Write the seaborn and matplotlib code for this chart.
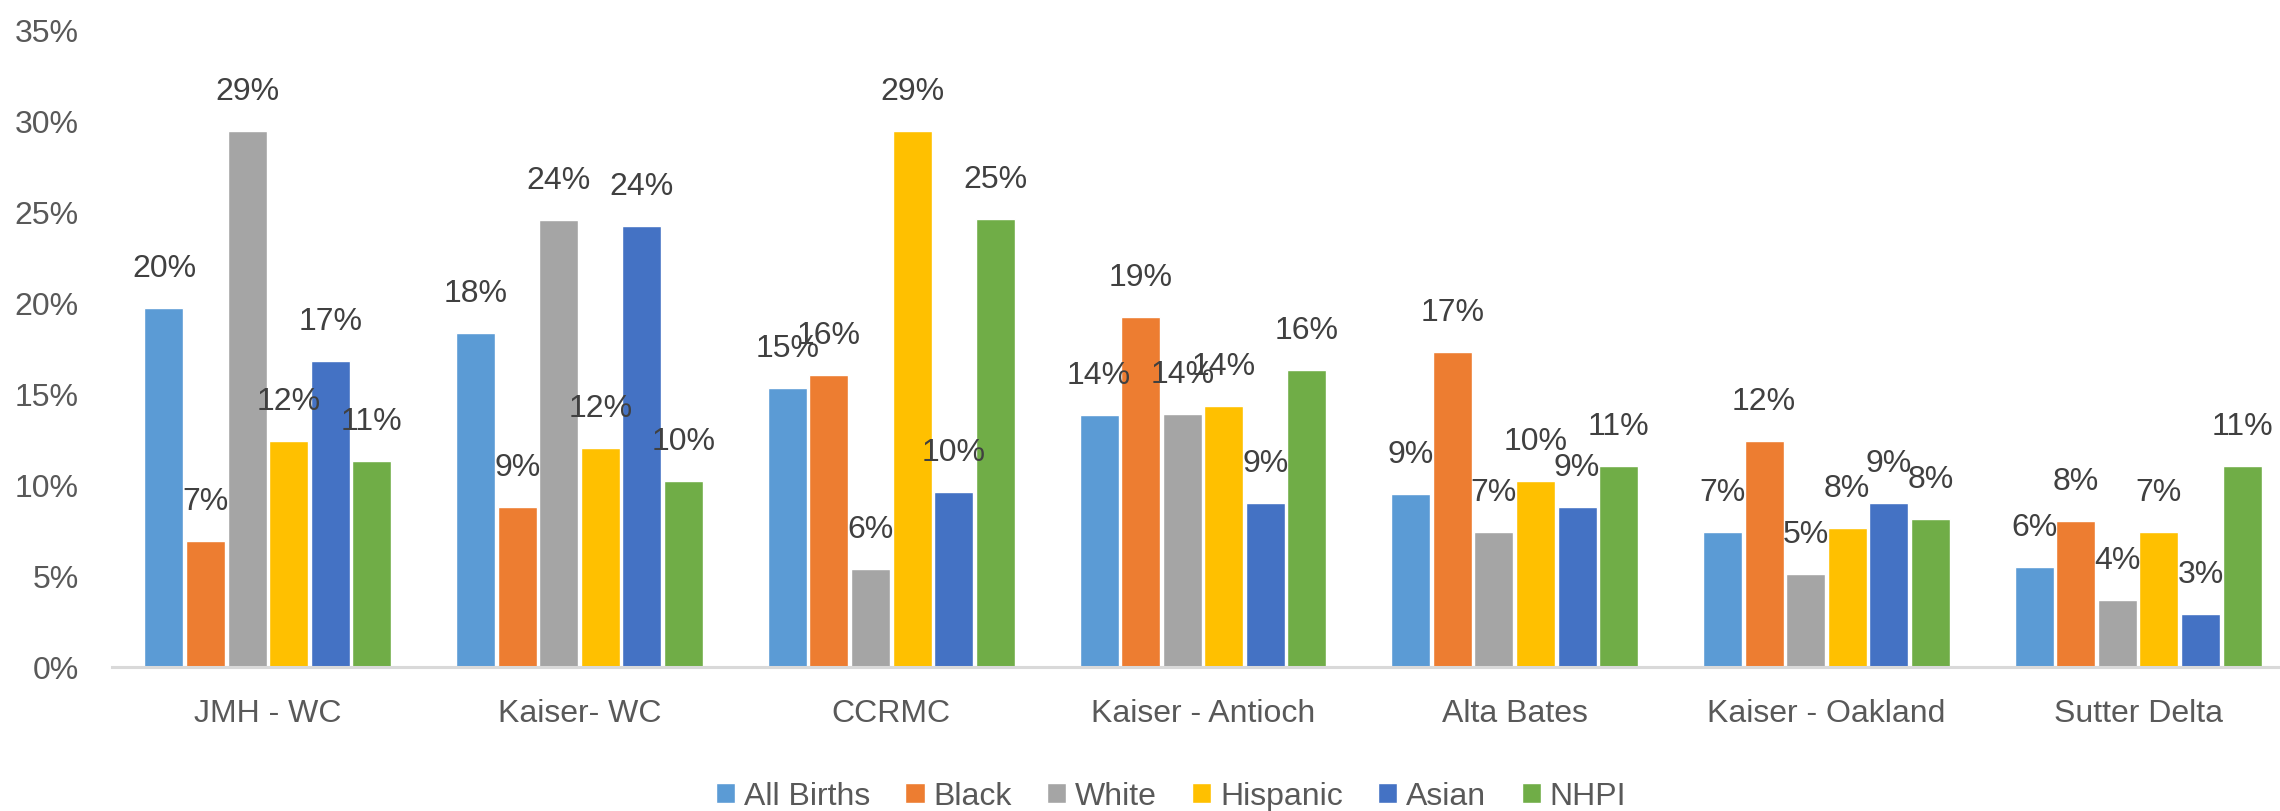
import matplotlib
matplotlib.use("Agg")
import matplotlib.pyplot as plt
import seaborn as sns
import pandas as pd

hospitals = ["JMH - WC", "Kaiser- WC", "CCRMC", "Kaiser - Antioch", "Alta Bates", "Kaiser - Oakland", "Sutter Delta"]
groups = ["All Births", "Black", "White", "Hispanic", "Asian", "NHPI"]

all_births = [19.7, 18.3, 15.3, 13.8, 9.5, 7.4, 5.5]
black      = [6.9, 8.8, 16.0, 19.2, 17.3, 12.4, 8.0]
white      = [29.4, 24.5, 5.4, 13.9, 7.4, 5.1, 3.7]
hispanic   = [12.4, 12.0, 29.4, 14.3, 10.2, 7.6, 7.4]
asian      = [16.8, 24.2, 9.6, 9.0, 8.8, 9.0, 2.9]
nhpi       = [11.3, 10.2, 24.6, 16.3, 11.0, 8.1, 11.0]

lab_all      = ["20%", "18%", "15%", "14%", "9%", "7%", "6%"]
lab_black    = ["7%", "9%", "16%", "19%", "17%", "12%", "8%"]
lab_white    = ["29%", "24%", "6%", "14%", "7%", "5%", "4%"]
lab_hispanic = ["12%", "12%", "29%", "14%", "10%", "8%", "7%"]
lab_asian    = ["17%", "24%", "10%", "9%", "9%", "9%", "3%"]
lab_nhpi     = ["11%", "10%", "25%", "16%", "11%", "8%", "11%"]

y_ticks = [0, 5, 10, 15, 20, 25, 30, 35]
y_tick_labels = ["0%", "5%", "10%", "15%", "20%", "25%", "30%", "35%"]

colors = ["#5B9BD5", "#ED7D31", "#A5A5A5", "#FFC000", "#4472C4", "#70AD47"]

series = [all_births, black, white, hispanic, asian, nhpi]
labels = [lab_all, lab_black, lab_white, lab_hispanic, lab_asian, lab_nhpi]

rows = []
for g, vals in zip(groups, series):
    for h, v in zip(hospitals, vals):
        rows.append({"Hospital": h, "Group": g, "Rate": v})
df = pd.DataFrame(rows)

sns.set_theme(style="white")
plt.rcParams["font.family"] = ["Liberation Sans", "DejaVu Sans"]

fig = plt.figure(figsize=(22.8, 8.12), dpi=100)
W, H = 2280, 812
left, right = 112 / W, 2294 / W
top, bottom = 1 - 30 / H, 1 - 668 / H
ax = fig.add_axes([left, bottom, right - left, top - bottom])

sns.barplot(data=df, x="Hospital", y="Rate", hue="Group", order=hospitals,
            hue_order=groups, palette=colors, saturation=1, width=0.8, gap=0.06,
            errorbar=None, ax=ax, legend=True)

for cont, labs in zip(ax.containers, labels):
    ax.bar_label(cont, labels=labs, padding=18, fontsize=23, color="#404040")

ax.set_ylim(0, 35)
ax.set_xlim(-0.5, 6.5)
ax.set_yticks(y_ticks)
ax.set_yticklabels(y_tick_labels, fontsize=23, color="#595959")
ax.tick_params(axis="y", length=0, pad=24)
ax.tick_params(axis="x", length=0, pad=22, labelsize=23, labelcolor="#595959")
ax.set_xlabel("")
ax.set_ylabel("")
ax.grid(False)
for s in ["top", "right", "left"]:
    ax.spines[s].set_visible(False)
ax.spines["bottom"].set_color("#D9D9D9")
ax.spines["bottom"].set_linewidth(2.2)

handles, hl = ax.get_legend_handles_labels()
ax.get_legend().remove()
fig.legend(handles, hl, loc="center", bbox_to_anchor=(1171 / W, 15 / H), ncol=6,
           frameon=False, fontsize=23, handlelength=0.6, handleheight=0.6,
           handletextpad=0.28, columnspacing=1.1, labelcolor="#595959", borderpad=0)

fig.savefig("out.png", dpi=100)
